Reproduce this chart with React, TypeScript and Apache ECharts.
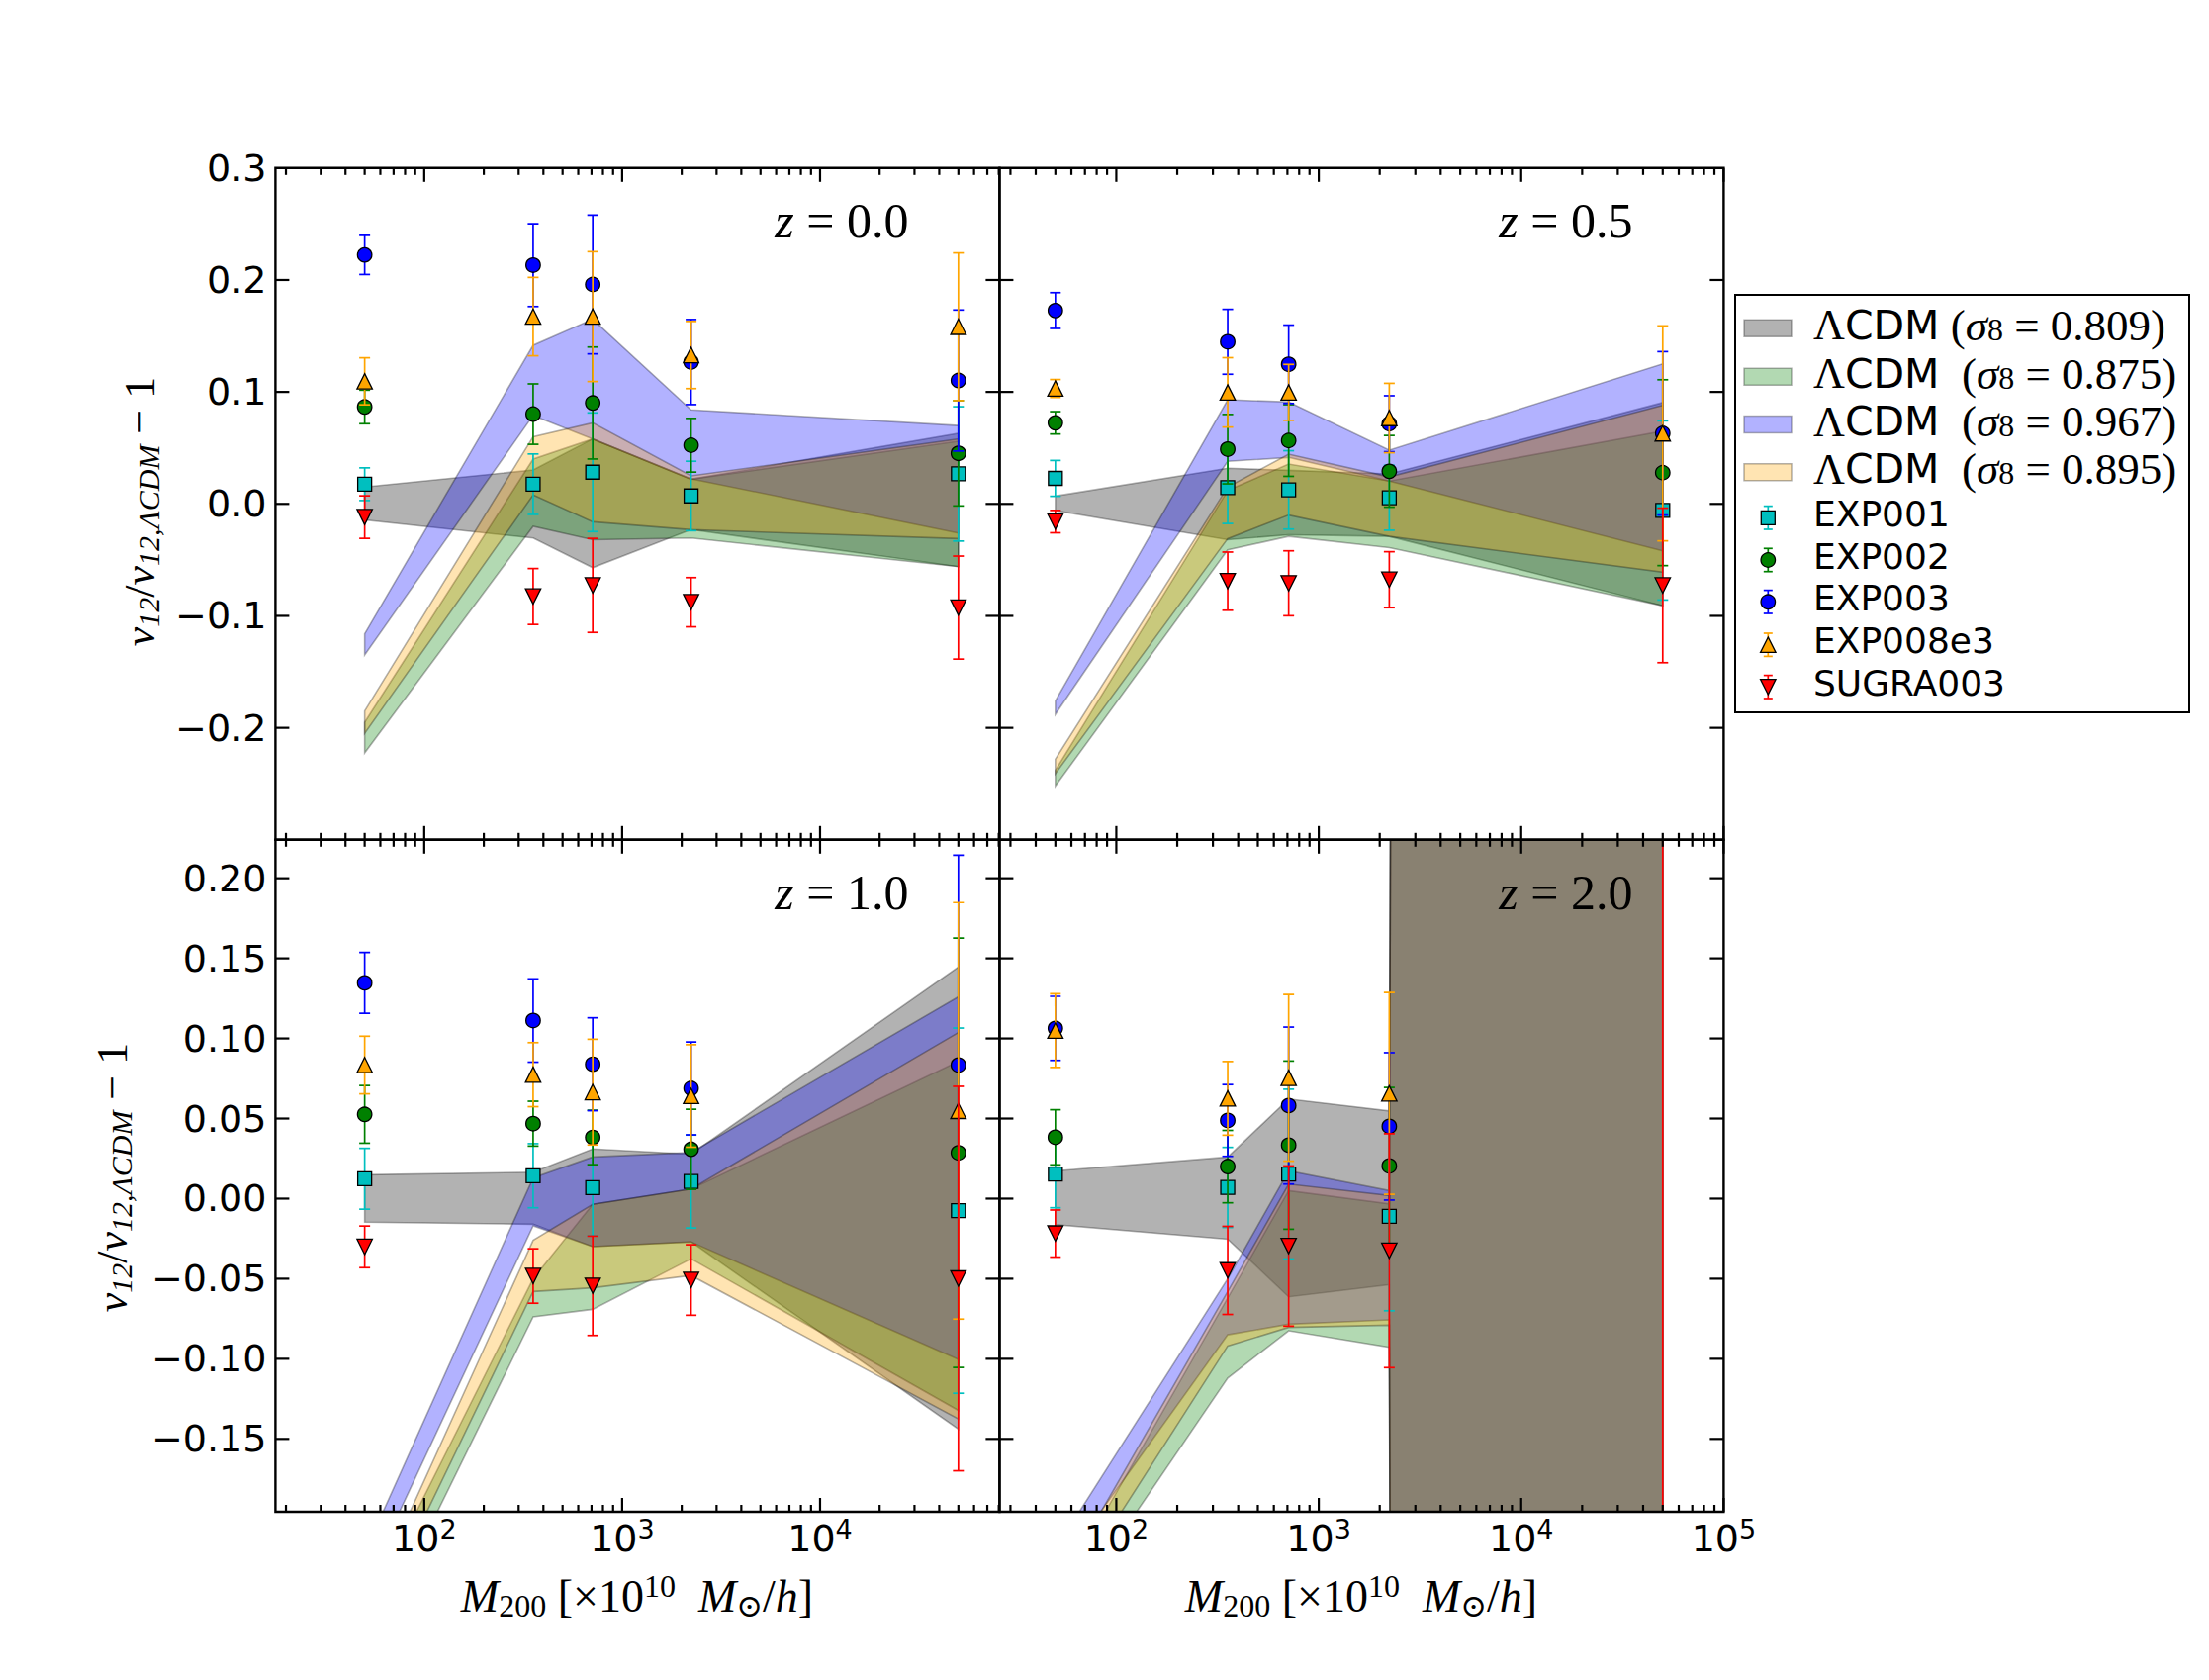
import React, { useEffect, useRef } from 'react';
import * as echarts from 'echarts';

// ---------------- data ----------------
const MASS = [50, 355, 710, 2230, 50000];
const REDSHIFTS = ['0.0', '0.5', '1.0', '2.0'];
const EXP_NAMES = ['EXP001', 'EXP002', 'EXP003', 'EXP008e3', 'SUGRA003'];
const EXP_COLORS = ['#00bfbf', '#008000', '#0000ff', '#ffa500', '#ff0000'];
const EXP_SYMBOLS = ['rect', 'circle', 'circle', 'triangle', 'triangle'];
const EXP_ROTATE = [0, 0, 0, 0, 180];
const EXP_SIZES = [14, 14.5, 14.5, 15.5, 15.5];
const SIGMA8 = ['0.809', '0.875', '0.967', '0.895'];
const BAND_FILLS = ['rgba(0,0,0,0.3)', 'rgba(0,128,0,0.3)', 'rgba(0,0,255,0.3)', 'rgba(255,165,0,0.3)'];

const X_RANGE_LEFT = [17.7, 80700];
const X_RANGE_RIGHT = [26.5, 100000];
const Y_RANGE_TOP = [-0.3, 0.3];
const Y_RANGE_BOTTOM = [-0.1955, 0.224];

const X_MAJOR = [10, 100, 1000, 10000, 100000];
const X_MINOR = [20, 30, 40, 50, 60, 70, 80, 90, 200, 300, 400, 500, 600, 700, 800, 900,
  2000, 3000, 4000, 5000, 6000, 7000, 8000, 9000, 20000, 30000, 40000, 50000, 60000, 70000, 80000, 90000];
const Y_TICKS_TOP = [-0.2, -0.1, 0.0, 0.1, 0.2];
const Y_LABELS_TOP = [-0.2, -0.1, 0.0, 0.1, 0.2, 0.3];
const Y_TICKS_BOTTOM = [-0.15, -0.1, -0.05, 0.0, 0.05, 0.1, 0.15, 0.2];

// z = 0.0
const Z00_EXP001 = [0.0176, 0.0176, 0.0283, 0.0071, 0.0268];
const Z00_EXP001_ERR = [0.0146, 0.027, 0.053, 0.031, 0.06];
const Z00_EXP002 = [0.0866, 0.0802, 0.0901, 0.0524, 0.0452];
const Z00_EXP002_ERR = [0.015, 0.027, 0.05, 0.024, 0.047];
const Z00_EXP003 = [0.2224, 0.2133, 0.196, 0.1267, 0.1102];
const Z00_EXP003_ERR = [0.0175, 0.037, 0.062, 0.038, 0.063];
const Z00_EXP008E3 = [0.1095, 0.1673, 0.1673, 0.133, 0.1582];
const Z00_EXP008E3_ERR = [0.021, 0.035, 0.058, 0.03, 0.066];
const Z00_SUGRA003 = [-0.0118, -0.0827, -0.0728, -0.0878, -0.0926];
const Z00_SUGRA003_ERR = [0.019, 0.025, 0.042, 0.022, 0.046];
const Z00_L809_LO = [-0.0144, -0.0305, -0.057, -0.023, -0.056];
const Z00_L809_HI = [0.0151, 0.0303, 0.058, 0.022, 0.063];
const Z00_L875_LO = [-0.2225, -0.02, -0.032, -0.0305, -0.056];
const Z00_L875_HI = [-0.195, 0.04, 0.058, 0.022, 0.056];
const Z00_L967_LO = [-0.135, 0.079, 0.058, 0.0224, -0.026];
const Z00_L967_HI = [-0.116, 0.1417, 0.165, 0.084, 0.07];
const Z00_L895_LO = [-0.205, 0.008, -0.016, -0.023, -0.031];
const Z00_L895_HI = [-0.185, 0.06, 0.0724, 0.025, 0.058];

// z = 0.5
const Z05_EXP001 = [0.0228, 0.0145, 0.0125, 0.0055, -0.0058];
const Z05_EXP001_ERR = [0.016, 0.032, 0.035, 0.029, 0.08];
const Z05_EXP002 = [0.0724, 0.0489, 0.0566, 0.0291, 0.0279];
const Z05_EXP002_ERR = [0.01, 0.031, 0.032, 0.032, 0.083];
const Z05_EXP003 = [0.1727, 0.1448, 0.1247, 0.0716, 0.063];
const Z05_EXP003_ERR = [0.016, 0.029, 0.035, 0.025, 0.073];
const Z05_EXP008E3 = [0.1031, 0.0996, 0.0996, 0.0767, 0.063];
const Z05_EXP008E3_ERR = [0.008, 0.031, 0.025, 0.031, 0.096];
const Z05_SUGRA003 = [-0.0158, -0.069, -0.0709, -0.0677, -0.0728];
const Z05_SUGRA003_ERR = [0.01, 0.026, 0.029, 0.025, 0.069];
const Z05_L809_LO = [-0.006, -0.032, -0.0276, -0.029, -0.091];
const Z05_L809_HI = [0.007, 0.0318, 0.03, 0.0268, 0.0905];
const Z05_L875_LO = [-0.252, -0.041, -0.029, -0.039, -0.091];
const Z05_L875_HI = [-0.238, 0.012, 0.0356, 0.0204, 0.065];
const Z05_L967_LO = [-0.188, 0.038, 0.0415, 0.0204, -0.042];
const Z05_L967_HI = [-0.176, 0.093, 0.091, 0.048, 0.125];
const Z05_L895_LO = [-0.241, -0.031, -0.01, -0.029, -0.061];
const Z05_L895_HI = [-0.228, 0.015, 0.0444, 0.024, 0.088];

// z = 1.0
const Z10_EXP001 = [0.0124, 0.0143, 0.0068, 0.0107, -0.0075];
const Z10_EXP001_ERR = [0.019, 0.02, 0.03, 0.029, 0.114];
const Z10_EXP002 = [0.0526, 0.0468, 0.0382, 0.0308, 0.0286];
const Z10_EXP002_ERR = [0.018, 0.014, 0.017, 0.025, 0.134];
const Z10_EXP003 = [0.1347, 0.1112, 0.0839, 0.0688, 0.0834];
const Z10_EXP003_ERR = [0.019, 0.026, 0.029, 0.029, 0.131];
const Z10_EXP008E3 = [0.0834, 0.0774, 0.0665, 0.0641, 0.0548];
const Z10_EXP008E3_ERR = [0.018, 0.02, 0.033, 0.032, 0.13];
const Z10_SUGRA003 = [-0.0301, -0.0483, -0.0544, -0.0508, -0.0499];
const Z10_SUGRA003_ERR = [0.013, 0.017, 0.031, 0.022, 0.12];
const Z10_L809_LO = [-0.0147, -0.016, -0.03, -0.027, -0.1439];
const Z10_L809_HI = [0.0149, 0.0165, 0.031, 0.0278, 0.1446];
const Z10_L875_LO = [-0.288, -0.0738, -0.0691, -0.0376, -0.1322];
const Z10_L875_HI = [-0.26, -0.05, -0.0036, 0.006, 0.0857];
const Z10_L967_LO = [-0.242, -0.017, -0.03, -0.027, -0.1004];
const Z10_L967_HI = [-0.221, 0.013, 0.026, 0.0288, 0.126];
const Z10_L895_LO = [-0.276, -0.058, -0.0557, -0.048, -0.1375];
const Z10_L895_HI = [-0.258, -0.026, -0.0036, 0.006, 0.1037];

// z = 2.0
const Z20_EXP001 = [0.0153, 0.007, 0.0153, -0.011, null];
const Z20_EXP001_ERR = [0.021, 0.025, 0.053, 0.059, null];
const Z20_EXP002 = [0.0383, 0.02, 0.0334, 0.0204, null];
const Z20_EXP002_ERR = [0.0172, 0.0226, 0.0525, 0.049, null];
const Z20_EXP003 = [0.1063, 0.0488, 0.0581, 0.0451, null];
const Z20_EXP003_ERR = [0.02, 0.0224, 0.049, 0.046, null];
const Z20_EXP008E3 = [0.1049, 0.0626, 0.0754, 0.0657, null];
const Z20_EXP008E3_ERR = [0.023, 0.023, 0.052, 0.063, null];
const Z20_SUGRA003 = [-0.0218, -0.0448, -0.0296, -0.0325, 0.9];
const Z20_SUGRA003_ERR = [0.0147, 0.0275, 0.05, 0.073, 2.0];
const Z20_L809_LO = [-0.0162, -0.0253, -0.0613, -0.0537, -50];
const Z20_L809_HI = [0.0173, 0.026, 0.0622, 0.0548, 50];
const Z20_L875_LO = [-0.27, -0.112, -0.0825, -0.0928, -50];
const Z20_L875_HI = [-0.25, -0.062, 0.005, -0.0033, 50];
const Z20_L967_LO = [-0.235, -0.085, -0.0784, -0.0757, -50];
const Z20_L967_HI = [-0.219, -0.05, 0.0173, 0.005, 50];
const Z20_L895_LO = [-0.26, -0.092, -0.0804, -0.079, -50];
const Z20_L895_HI = [-0.245, -0.058, 0.0091, 0.0019, 50];

const PANELS = [
  {
    z: REDSHIFTS[0],
    vals: [Z00_EXP001, Z00_EXP002, Z00_EXP003, Z00_EXP008E3, Z00_SUGRA003],
    errs: [Z00_EXP001_ERR, Z00_EXP002_ERR, Z00_EXP003_ERR, Z00_EXP008E3_ERR, Z00_SUGRA003_ERR],
    lo: [Z00_L809_LO, Z00_L875_LO, Z00_L967_LO, Z00_L895_LO],
    hi: [Z00_L809_HI, Z00_L875_HI, Z00_L967_HI, Z00_L895_HI],
    xr: X_RANGE_LEFT, yr: Y_RANGE_TOP, yTicks: Y_TICKS_TOP, yLabels: Y_LABELS_TOP, dec: 1, bottom: false, left: true,
  },
  {
    z: REDSHIFTS[1],
    vals: [Z05_EXP001, Z05_EXP002, Z05_EXP003, Z05_EXP008E3, Z05_SUGRA003],
    errs: [Z05_EXP001_ERR, Z05_EXP002_ERR, Z05_EXP003_ERR, Z05_EXP008E3_ERR, Z05_SUGRA003_ERR],
    lo: [Z05_L809_LO, Z05_L875_LO, Z05_L967_LO, Z05_L895_LO],
    hi: [Z05_L809_HI, Z05_L875_HI, Z05_L967_HI, Z05_L895_HI],
    xr: X_RANGE_RIGHT, yr: Y_RANGE_TOP, yTicks: Y_TICKS_TOP, yLabels: Y_LABELS_TOP, dec: 1, bottom: false, left: false,
  },
  {
    z: REDSHIFTS[2],
    vals: [Z10_EXP001, Z10_EXP002, Z10_EXP003, Z10_EXP008E3, Z10_SUGRA003],
    errs: [Z10_EXP001_ERR, Z10_EXP002_ERR, Z10_EXP003_ERR, Z10_EXP008E3_ERR, Z10_SUGRA003_ERR],
    lo: [Z10_L809_LO, Z10_L875_LO, Z10_L967_LO, Z10_L895_LO],
    hi: [Z10_L809_HI, Z10_L875_HI, Z10_L967_HI, Z10_L895_HI],
    xr: X_RANGE_LEFT, yr: Y_RANGE_BOTTOM, yTicks: Y_TICKS_BOTTOM, yLabels: Y_TICKS_BOTTOM, dec: 2, bottom: true, left: true,
  },
  {
    z: REDSHIFTS[3],
    vals: [Z20_EXP001, Z20_EXP002, Z20_EXP003, Z20_EXP008E3, Z20_SUGRA003],
    errs: [Z20_EXP001_ERR, Z20_EXP002_ERR, Z20_EXP003_ERR, Z20_EXP008E3_ERR, Z20_SUGRA003_ERR],
    lo: [Z20_L809_LO, Z20_L875_LO, Z20_L967_LO, Z20_L895_LO],
    hi: [Z20_L809_HI, Z20_L875_HI, Z20_L967_HI, Z20_L895_HI],
    xr: X_RANGE_RIGHT, yr: Y_RANGE_BOTTOM, yTicks: Y_TICKS_BOTTOM, yLabels: Y_TICKS_BOTTOM, dec: 2, bottom: true, left: false,
  },
];

// ---------------- layout / styles ----------------
const GRID_RECTS = [
  [278.4, 169.8, 732, 679],
  [1010.4, 169.8, 732, 679],
  [278.4, 848.8, 732, 679.2],
  [1010.4, 848.8, 732, 679.2],
];
const SANS = '"DejaVu Sans", "Liberation Sans", sans-serif';
const MATH = '"Liberation Serif", "DejaVu Serif", serif';

const TICK_RICH = {
  b: { fontSize: 38, fontFamily: SANS, lineHeight: 46, fill: '#000' },
  s: { fontSize: 27, fontFamily: SANS, lineHeight: 20, verticalAlign: 'top', fill: '#000' },
};

function txt(x: number, y: number, text: string, rich: any, align: string, vAlign: string, extra: any = {}) {
  return {
    type: 'text', x, y, z: 100, silent: true, ...extra,
    style: { text, rich, fill: '#000', align, verticalAlign: vAlign, textAlign: align, textVerticalAlign: vAlign },
  };
}

function bandRenderer(lo: number[], hi: number[], fill: string) {
  return (params: any, api: any) => {
    const pts: number[][] = [];
    for (let i = 0; i < MASS.length; i++) pts.push(api.coord([MASS[i], hi[i]]));
    for (let i = MASS.length - 1; i >= 0; i--) pts.push(api.coord([MASS[i], lo[i]]));
    return { type: 'polygon', shape: { points: pts }, style: { fill, stroke: 'rgba(0,0,0,0.3)', lineWidth: 1.6 } };
  };
}

function errorBarRenderer(color: string) {
  return (params: any, api: any) => {
    const x = api.value(0), y = api.value(1), e = api.value(2);
    const a = api.coord([x, y + e]);
    const b = api.coord([x, y - e]);
    const cap = 5.5;
    const st = () => ({ stroke: color, lineWidth: 1.7, fill: null });
    return {
      type: 'group',
      children: [
        { type: 'line', shape: { x1: a[0], y1: a[1], x2: b[0], y2: b[1] }, style: st() },
        { type: 'line', shape: { x1: a[0] - cap, y1: a[1], x2: a[0] + cap, y2: a[1] }, style: st() },
        { type: 'line', shape: { x1: b[0] - cap, y1: b[1], x2: b[0] + cap, y2: b[1] }, style: st() },
      ],
    };
  };
}

function tickRenderer(showX: boolean, showY: boolean, dec: number) {
  return (params: any, api: any) => {
    const cs = params.coordSys;
    const kind = api.value(2);
    const ch: any[] = [];
    const st = () => ({ stroke: '#000', lineWidth: 2.2, fill: null });
    if (kind === 0 || kind === 1) {
      const px = api.coord([api.value(0), api.value(1)])[0];
      const len = kind === 0 ? 14 : 7;
      const yb = cs.y + cs.height;
      const yt = cs.y;
      ch.push({ type: 'line', shape: { x1: px, y1: yb, x2: px, y2: yb - len }, style: st() });
      ch.push({ type: 'line', shape: { x1: px, y1: yt, x2: px, y2: yt + len }, style: st() });
      if (kind === 0 && showX) {
        const ex = Math.round(Math.log10(api.value(0)));
        ch.push({
          type: 'text', x: px, y: yb + 27,
          style: { text: `{b|10}{s|${ex}}`, rich: TICK_RICH, fill: '#000', align: 'center', verticalAlign: 'middle', textAlign: 'center', textVerticalAlign: 'middle' },
        });
      }
    } else {
      const py = api.coord([api.value(0), api.value(1)])[1];
      if (kind === 2) {
        ch.push({ type: 'line', shape: { x1: cs.x, y1: py, x2: cs.x + 14, y2: py }, style: st() });
        ch.push({ type: 'line', shape: { x1: cs.x + cs.width, y1: py, x2: cs.x + cs.width - 14, y2: py }, style: st() });
      }
      if (kind === 3 && showY) {
        const label = Number(api.value(1)).toFixed(dec).replace('-', '\u2212');
        ch.push({
          type: 'text', x: cs.x - 9, y: py,
          style: { text: label, fontSize: 38, fontFamily: SANS, fill: '#000', align: 'right', verticalAlign: 'middle', textAlign: 'right', textVerticalAlign: 'middle' },
        });
      }
    }
    return { type: 'group', children: ch };
  };
}

function buildOption() {
  const series: any[] = [];
  PANELS.forEach((p, pi) => {
    for (let b = 0; b < 4; b++) {
      series.push({
        type: 'custom', name: `LCDM ${SIGMA8[b]} z${p.z}`, xAxisIndex: pi, yAxisIndex: pi,
        clip: true, silent: true, z: 2,
        data: [[MASS[0], 0]],
        renderItem: bandRenderer(p.lo[b], p.hi[b], BAND_FILLS[b]),
      });
    }
    for (let e = 0; e < 5; e++) {
      const vals = p.vals[e] as (number | null)[];
      const errs = p.errs[e] as (number | null)[];
      const ebData: any[] = [];
      const ptData: any[] = [];
      MASS.forEach((m, i) => {
        if (vals[i] == null) return;
        ebData.push([m, vals[i], errs[i]]);
        ptData.push([m, vals[i]]);
      });
      series.push({
        type: 'custom', name: `${EXP_NAMES[e]} err z${p.z}`, xAxisIndex: pi, yAxisIndex: pi,
        clip: true, silent: true, z: 5 + e * 2,
        data: ebData,
        renderItem: errorBarRenderer(EXP_COLORS[e]),
      });
      series.push({
        type: 'scatter', name: `${EXP_NAMES[e]} z${p.z}`, xAxisIndex: pi, yAxisIndex: pi,
        clip: true, silent: true, z: 6 + e * 2,
        symbol: EXP_SYMBOLS[e], symbolRotate: EXP_ROTATE[e], symbolSize: EXP_SIZES[e],
        itemStyle: { color: EXP_COLORS[e], borderColor: '#000', borderWidth: 1.3, opacity: 1 },
        data: ptData,
      });
    }
    const tickData: any[] = [];
    X_MAJOR.forEach((v) => { if (v >= p.xr[0] && v <= p.xr[1]) tickData.push([v, 0, 0]); });
    X_MINOR.forEach((v) => { if (v >= p.xr[0] && v <= p.xr[1]) tickData.push([v, 0, 1]); });
    p.yTicks.forEach((v) => tickData.push([100, v, 2]));
    if (p.left) p.yLabels.forEach((v) => tickData.push([100, v, 3]));
    series.push({
      type: 'custom', name: `ticks z${p.z}`, xAxisIndex: pi, yAxisIndex: pi,
      clip: false, silent: true, z: 30,
      data: tickData,
      renderItem: tickRenderer(p.bottom, p.left, p.dec),
    });
  });

  const graphics: any[] = [];
  GRID_RECTS.forEach((r) => {
    graphics.push({
      type: 'rect', z: 100, silent: true,
      shape: { x: r[0], y: r[1], width: r[2], height: r[3] },
      style: { fill: 'none', stroke: '#000', lineWidth: 2.4 },
    });
  });
  const titleRich = {
    i: { fontFamily: MATH, fontStyle: 'italic', fontSize: 50, fill: '#000' },
    n: { fontFamily: MATH, fontSize: 50, fill: '#000' },
  };
  PANELS.forEach((p, pi) => {
    const r = GRID_RECTS[pi];
    graphics.push(txt(r[0] + r[2] - 92, r[1] + 53, `{i|z}{n| = ${p.z}}`, titleRich, 'right', 'middle'));
  });
  const yRich = {
    i: { fontFamily: MATH, fontStyle: 'italic', fontSize: 44, lineHeight: 48, fill: '#000' },
    n: { fontFamily: MATH, fontSize: 44, lineHeight: 48, fill: '#000' },
    sub: { fontFamily: MATH, fontStyle: 'italic', fontSize: 30, lineHeight: 28, verticalAlign: 'bottom', fill: '#000' },
  };
  const yText = '{i|v}{sub|12}{n|/}{i|v}{sub|12,ΛCDM}{n| \u2212 1}';
  graphics.push(txt(141, 517, yText, yRich, 'center', 'middle', { rotation: Math.PI / 2 }));
  graphics.push(txt(113, 1190, yText, yRich, 'center', 'middle', { rotation: Math.PI / 2 }));
  const xRich = {
    i: { fontFamily: MATH, fontStyle: 'italic', fontSize: 46, lineHeight: 52, fill: '#000' },
    n: { fontFamily: MATH, fontSize: 46, lineHeight: 52, fill: '#000' },
    sub: { fontFamily: MATH, fontSize: 32, lineHeight: 30, verticalAlign: 'bottom', fill: '#000' },
    sup: { fontFamily: MATH, fontSize: 32, lineHeight: 30, verticalAlign: 'top', fill: '#000' },
  };
  const xText = '{i|M}{sub|200}{n| [\u00d710}{sup|10}{n|  }{i|M}{sub|\u2299}{n|/}{i|h}{n|]}';
  graphics.push(txt(644, 1613, xText, xRich, 'center', 'middle'));
  graphics.push(txt(1376, 1613, xText, xRich, 'center', 'middle'));

  // legend
  graphics.push({
    type: 'rect', z: 100, silent: true,
    shape: { x: 1754, y: 298, width: 459, height: 422 },
    style: { fill: '#fff', stroke: '#000', lineWidth: 2 },
  });
  const LEG_ROWS = [331.7, 380.7, 429, 477.3, 523.3, 566, 608.3, 651.7, 694.3];
  const legRich = {
    L: { fontFamily: MATH, fontSize: 44, lineHeight: 40, fill: '#000' },
    s: { fontFamily: SANS, fontSize: 41, lineHeight: 38, fill: '#000' },
    m: { fontFamily: MATH, fontSize: 45, lineHeight: 40, fill: '#000' },
    i: { fontFamily: MATH, fontStyle: 'italic', fontSize: 45, lineHeight: 40, fill: '#000' },
    sub: { fontFamily: MATH, fontSize: 32, lineHeight: 26, verticalAlign: 'bottom', fill: '#000' },
  };
  for (let b = 0; b < 4; b++) {
    const y = LEG_ROWS[b];
    graphics.push({
      type: 'rect', z: 101, silent: true,
      shape: { x: 1763, y: y - 8.5, width: 48, height: 17 },
      style: { fill: BAND_FILLS[b], stroke: 'rgba(0,0,0,0.3)', lineWidth: 1.5 },
    });
    const gap = b === 0 ? ' (' : '  (';
    graphics.push(txt(1833, y - 3, `{L|Λ}{s|CDM}{m|${gap}}{i|σ}{sub|8}{m| = ${SIGMA8[b]})}`, legRich, 'left', 'middle', { z: 101 }));
  }
  for (let e = 0; e < 5; e++) {
    const y = LEG_ROWS[4 + e];
    const cx = 1787.3;
    const c = EXP_COLORS[e];
    const ls = () => ({ stroke: c, lineWidth: 1.7, fill: null });
    graphics.push({ type: 'line', z: 101, silent: true, shape: { x1: cx, y1: y - 11.7, x2: cx, y2: y + 11.7 }, style: ls() });
    graphics.push({ type: 'line', z: 101, silent: true, shape: { x1: cx - 4.5, y1: y - 11.7, x2: cx + 4.5, y2: y - 11.7 }, style: ls() });
    graphics.push({ type: 'line', z: 101, silent: true, shape: { x1: cx - 4.5, y1: y + 11.7, x2: cx + 4.5, y2: y + 11.7 }, style: ls() });
    const ms = { fill: c, stroke: '#000', lineWidth: 1.3 };
    if (EXP_SYMBOLS[e] === 'rect') {
      graphics.push({ type: 'rect', z: 102, silent: true, shape: { x: cx - 7, y: y - 7, width: 14, height: 14 }, style: ms });
    } else if (EXP_SYMBOLS[e] === 'circle') {
      graphics.push({ type: 'circle', z: 102, silent: true, shape: { cx, cy: y, r: 7.25 }, style: ms });
    } else {
      const h = 7.75;
      const pts = EXP_ROTATE[e] === 180
        ? [[cx, y + h], [cx - h, y - h], [cx + h, y - h]]
        : [[cx, y - h], [cx - h, y + h], [cx + h, y + h]];
      graphics.push({ type: 'polygon', z: 102, silent: true, shape: { points: pts }, style: ms });
    }
    graphics.push({
      type: 'text', x: 1833, y: y - 4, z: 101, silent: true,
      style: {
        text: EXP_NAMES[e], fontSize: 36, fontFamily: SANS, fill: '#000',
        align: 'left', verticalAlign: 'middle', textAlign: 'left', textVerticalAlign: 'middle',
      },
    });
  }

  return {
    animation: false,
    backgroundColor: '#ffffff',
    grid: GRID_RECTS.map((r) => ({ left: r[0], top: r[1], width: r[2], height: r[3], show: false, containLabel: false })),
    xAxis: PANELS.map((p, i) => ({
      type: 'log', logBase: 10, gridIndex: i, min: p.xr[0], max: p.xr[1],
      axisLine: { show: false }, axisTick: { show: false }, axisLabel: { show: false },
      splitLine: { show: false }, minorTick: { show: false }, minorSplitLine: { show: false },
    })),
    yAxis: PANELS.map((p, i) => ({
      type: 'value', gridIndex: i, min: p.yr[0], max: p.yr[1],
      axisLine: { show: false }, axisTick: { show: false }, axisLabel: { show: false },
      splitLine: { show: false },
    })),
    series,
    graphic: { elements: graphics },
  };
}

export default function App() {
  const ref = useRef<HTMLDivElement>(null);
  useEffect(() => {
    if (!ref.current) return;
    const chart = echarts.init(ref.current, null, { renderer: 'svg' });
    chart.setOption(buildOption() as any);
    return () => chart.dispose();
  }, []);
  return (
    <div
      ref={ref}
      style={{ position: 'fixed', left: 0, top: 0, width: '2233px', height: '1698px', background: '#fff' }}
    />
  );
}
